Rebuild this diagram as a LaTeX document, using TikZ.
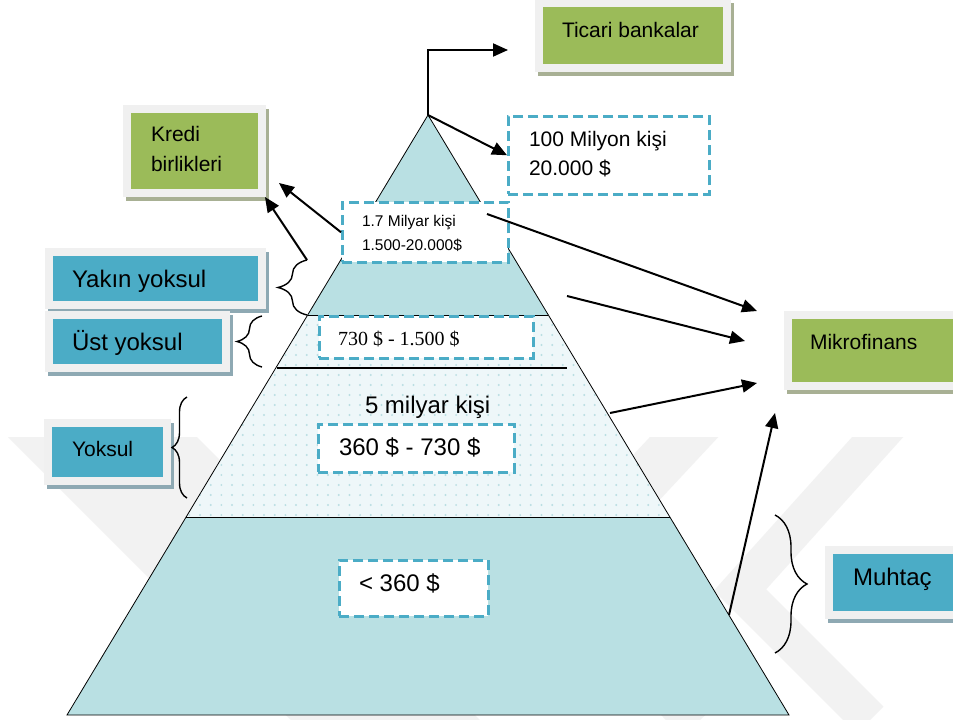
\documentclass[tikz,border=0pt]{standalone}
\usepackage{fontspec}
\setmainfont{Liberation Sans}
\newfontfamily\timesfont{Liberation Serif}
\usetikzlibrary{arrows.meta,decorations.pathreplacing}

\definecolor{pyrblue}{HTML}{B9E0E3}
\definecolor{dotbg}{HTML}{EEF7F9}
\definecolor{dotfg}{HTML}{BADEE2}
\definecolor{dashblue}{HTML}{4BACC6}
\definecolor{boxgreen}{HTML}{9BBB59}
\definecolor{boxblue}{HTML}{4BACC6}
\definecolor{framegray}{HTML}{F0F0F0}
\definecolor{shadegreen}{HTML}{A8B094}
\definecolor{shadeblue}{HTML}{8EA9B3}
\definecolor{wmgray}{HTML}{F2F2F2}

\newcommand{\fs}[1]{\fontsize{#1}{#1}\selectfont}

% framed panel: name, inner x1, y1, x2, y2, fill colour, shadow colour
\newcommand{\shadedpanel}[7]{%
  \fill[#7] ({#2-8+3},{#3-8+4}) rectangle ({#4+8+3},{#5+8+4});
  \fill[framegray] ({#2-8},{#3-8}) rectangle ({#4+8},{#5+8});
  \node[fill=#6, inner sep=0pt, outer sep=0pt,
        minimum width={#4-#2}, minimum height={#5-#3}]
        (#1) at ({(#2+#4)/2},{(#3+#5)/2}) {};
}

\tikzset{
  txt/.style={inner sep=0pt, outer sep=0pt, anchor=base west, text=black},
  dashbox/.style={draw=dashblue, line width=2.5pt, dash pattern=on 10pt off 5pt,
                  fill=white, inner sep=0pt, anchor=north west},
  conn/.style={line width=2pt, line join=miter, -{Triangle[length=15pt,width=13pt]}},
  bracket/.style={line width=1.4pt, decorate, decoration={brace, amplitude=#1}},
  edge line/.style={line width=0.8pt},
}

\begin{document}
\begin{tikzpicture}[x=1pt,y=-1pt]
\useasboundingbox (0,0) rectangle (953,720);
\fill[white] (0,0) rectangle (953,720);

% faint chevrons in the background
\begin{scope}
  \clip (0,437) rectangle (953,720);
  \fill[wmgray] (8,437) -- (197,437) -- (480,720) -- (291,720) -- cycle;
  \draw[wmgray, line width=38pt, line join=miter] (893,420) -- (740,590) -- (870,720);
  \draw[wmgray, line width=50pt, line join=miter] (700,420) -- (560,570) -- (700,720);
\end{scope}

% pyramid layers
\coordinate (apex) at (428,115);
\coordinate (l315) at (307.67,315);  \coordinate (r315) at (548.33,315);
\coordinate (l517) at (186.13,517);  \coordinate (r517) at (669.87,517);
\coordinate (l715) at (67,715);      \coordinate (r715) at (789,715);

\fill[pyrblue] (apex) -- (r315) -- (l315) -- cycle;
\fill[dotbg] (l315) -- (r315) -- (r517) -- (l517) -- cycle;
\begin{scope}
  \clip (l315) -- (r315) -- (r517) -- (l517) -- cycle;
  \foreach \i in {0,...,47}
    \foreach \j in {0,...,20}
      \fill[dotfg] ({178.7+\i*10.67},{315+\j*10}) circle (1.1);
\end{scope}
\fill[pyrblue] (l517) -- (r517) -- (r715) -- (l715) -- cycle;

\draw[edge line] (l715) -- (apex) -- (r715) -- cycle;
\draw[edge line] (l315) -- (r315);
\draw[edge line] (l517) -- (r517);
\coordinate (divL) at (277,368); \coordinate (divR) at (567,368);
\draw[line width=1.6pt] (divL) -- (divR);

% labelled panels
\shadedpanel{ticari}{543}{7}{723}{64}{boxgreen}{shadegreen}
\shadedpanel{kredi}{131}{113}{258}{189}{boxgreen}{shadegreen}
\shadedpanel{yakin}{53}{256}{258}{301}{boxblue}{shadeblue}
\shadedpanel{ust}{53}{319}{222}{364}{boxblue}{shadeblue}
\shadedpanel{yoksul}{52}{427}{163}{477}{boxblue}{shadeblue}
\shadedpanel{mikro}{792}{319}{965}{382}{boxgreen}{shadegreen}
\shadedpanel{muhtac}{833}{554}{965}{611}{boxblue}{shadeblue}

\node[txt, font=\fs{21}] (tTicari) at (562,37) {Ticari bankalar};
\node[txt, font=\fs{21}] (tKredi1) at (151,141.7) {Kredi};
\node[txt, font=\fs{21}] (tKredi2) at (151,171.7) {birlikleri};
\node[txt, font=\fs{24}] (tYakin) at (72,287.3) {Yakın yoksul};
\node[txt, font=\fs{24}] (tUst) at (72,350) {Üst yoksul};
\node[txt, font=\fs{21}] (tYoksul) at (72,456) {Yoksul};
\node[txt, font=\fs{21}] (tMikro) at (810,349) {Mikrofinans};
\node[txt, font=\fs{24}] (tMuhtac) at (853,585) {Muhtaç};

% dashed figure boxes
\node[dashbox, minimum width=201, minimum height=78] (b100) at (507,115) {};
\node[dashbox, minimum width=166, minimum height=60] (b17) at (341,201) {};
\node[dashbox, minimum width=214, minimum height=42] (b730) at (318,315) {};
\node[dashbox, minimum width=196, minimum height=48] (b360) at (317,423) {};
\node[dashbox, minimum width=149, minimum height=56] (b0) at (338,559) {};

\node[txt, font=\fs{21}] (t100a) at (529,146.7) {100 Milyon kişi};
\node[txt, font=\fs{21}] (t100b) at (529,175.7) {20.000 \$};
\node[txt, font=\fs{15.5}] (t17a) at (362,226.7) {1.7 Milyar kişi};
\node[txt, font=\fs{15.5}] (t17b) at (362,250) {1.500-20.000\$};
\node[txt, font=\timesfont\fs{20}] (t730) at (338,345) {730 \$ - 1.500 \$};
\node[txt, font=\fs{24}] (t5m) at (365,413.3) {5 milyar kişi};
\node[txt, font=\fs{24}] (t360) at (339,455) {360 \$ - 730 \$};
\node[txt, font=\fs{24}] (t0) at (359,591.7) {< 360 \$};

% braces
\coordinate (brYakinTop) at (307,260);
\draw[bracket=29pt] (307,315) -- (brYakinTop);
\draw[bracket=25pt] (262,367) -- (262,316);
\draw[bracket=15pt] (187,498) -- (187,397);
\draw[bracket=32pt] (775,515) -- (775,653);

% connectors
\coordinate (turn) at (428,50);
\coordinate (ticTip) at (508,50);
\coordinate (kreTipA) at (279,183);
\coordinate (kreTipB) at (265,197);
\coordinate (m1s) at (487,214);  \coordinate (m1e) at (757,311);
\coordinate (m2s) at (567,296);  \coordinate (m2e) at (745,341);
\coordinate (m3s) at (610,413);  \coordinate (m3e) at (757,383);
\coordinate (m4s) at (729,615);  \coordinate (m4e) at (775,413);

\draw[conn] (apex) -- (turn) -- (ticTip);
\draw[conn] (apex) -- (b100.west);
\draw[conn] (b17.west) -- (kreTipA);
\draw[conn] (brYakinTop) -- (kreTipB);
\draw[conn] (m1s) -- (m1e);
\draw[conn] (m2s) -- (m2e);
\draw[conn] (m3s) -- (m3e);
\draw[conn] (m4s) -- (m4e);
\end{tikzpicture}
\end{document}
